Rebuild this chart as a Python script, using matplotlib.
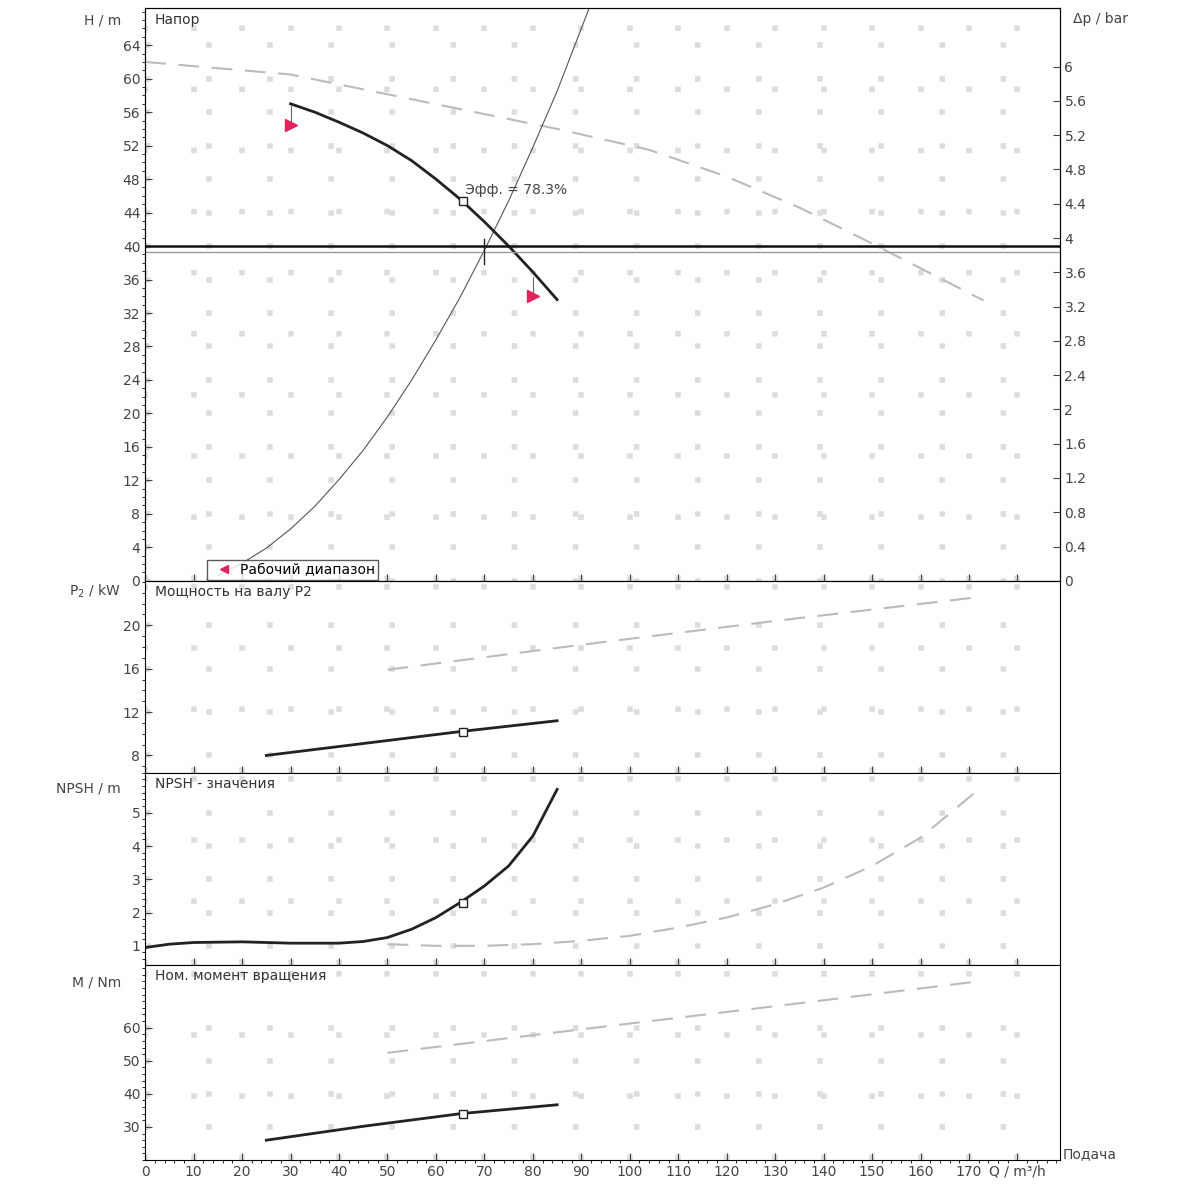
import matplotlib
matplotlib.use("Agg")
import matplotlib.pyplot as plt

# ---- data ----
pump_q = [30, 35, 40, 45, 50, 55, 60, 65, 70, 75, 80, 85]
pump_h = [57.0, 56.0, 54.8, 53.5, 52.0, 50.2, 48.0, 45.6, 42.9, 40.0, 36.9, 33.6]
sys_q = [15, 20, 25, 30, 35, 40, 45, 50, 55, 60, 65, 70, 75, 80, 85, 92]
sys_h = [0.6, 2.1, 3.9, 6.2, 8.9, 12.1, 15.6, 19.6, 24.0, 28.8, 33.9, 39.5,
         45.4, 51.8, 58.5, 69.0]
max_q = [0, 30, 63, 85, 104, 120, 135, 150, 173]
max_h = [62.0, 60.5, 56.6, 54.0, 51.5, 48.3, 44.6, 40.3, 33.5]
duty_q = 70
duty_h = 39.3
req_h = 40
eff_q, eff_h = 65.5, 45.4
range_q = [30, 80]
range_h = [54.5, 34.0]

p2_q = [25, 45, 65, 85]
p2_v = [8.0, 9.1, 10.2, 11.2]
p2_max_q = [50, 90, 130, 172]
p2_max_v = [15.9, 18.2, 20.4, 22.6]

npsh_q = [0, 5, 10, 20, 30, 40, 45, 50, 55, 60, 65, 70, 75, 80, 85]
npsh_v = [0.95, 1.05, 1.1, 1.12, 1.08, 1.08, 1.13, 1.25, 1.5, 1.85, 2.3, 2.8,
          3.4, 4.3, 5.7]
npsh_max_q = [50, 60, 70, 80, 90, 100, 110, 120, 130, 140, 150, 160, 172]
npsh_max_v = [1.05, 1.0, 1.0, 1.05, 1.15, 1.3, 1.55, 1.85, 2.25, 2.75, 3.4, 4.25, 5.7]

m_q = [25, 45, 65, 85]
m_v = [26.0, 30.2, 34.0, 36.7]
m_max_q = [50, 90, 130, 172]
m_max_v = [52.4, 59.5, 66.5, 74.0]

x_ticks = list(range(0, 190, 10))
x_labels = [str(v) for v in x_ticks[:-1]] + ["Q / m³/h"]

fig = plt.figure(figsize=(12, 12), dpi=100)
left, width = 0.121, 0.762
bounds = [(0.516, 0.477), (0.356, 0.160), (0.196, 0.160), (0.0333, 0.1627)]
axes = [fig.add_axes([left, b, width, h]) for b, h in bounds]
grey = "#bbbbbb"
dash = (0, (10, 6))
txt = "#444444"

for ax in axes:
    ax.set_xlim(0, 188.7)
    ax.grid(True, color="#dddddd", linestyle=(0, (1, 10)), linewidth=4)
    ax.tick_params(labelsize=10, colors=txt, direction="in", length=5)
    ax.set_xticks(x_ticks)
    ax.minorticks_on()
for ax in axes[:-1]:
    ax.tick_params(labelbottom=False)

# ---- head ----
ax = axes[0]
ax.set_ylim(0, 68.4)
ax.set_yticks(range(0, 65, 4))
ax.plot(max_q, max_h, color=grey, linestyle=dash, lw=1.5)
ax.plot(sys_q, sys_h, color="#555555", lw=0.8)
ax.plot(pump_q, pump_h, color="#222222", lw=2)
ax.plot([eff_q], [eff_h], marker="s", mfc="white", mec="#222222", ms=6)
ax.axhline(req_h, color="#111111", lw=1.8)
ax.axhline(duty_h, color="#999999", lw=1)
ax.plot([duty_q, duty_q], [duty_h - 1.5, duty_h + 1.5], color="#222222", lw=1)
ax.text(eff_q + 0.5, eff_h + 0.8, "Эфф. = 78.3%", fontsize=10, color=txt)
for q, h in zip(range_q, range_h):
    ax.plot([q, q], [h, h + 2.3], color="#666666", lw=0.8)
ax.plot(range_q, range_h, linestyle="none", marker=">", color="#e0245e", ms=8)
ax.text(2, 66.5, "Напор", fontsize=10, color="#333333")
ax.text(-5, 66.5, "H / m", fontsize=10, color=txt, ha="right")
ax.legend(handles=[plt.Line2D([], [], marker="<", color="#e0245e", linestyle="none")],
          labels=["Рабочий диапазон"], loc="lower left", bbox_to_anchor=(0.06, -0.01),
          fontsize=10, frameon=True, fancybox=False, edgecolor="#333333",
          handletextpad=0.2, borderpad=0.2)
ax2 = ax.twinx()
ax2.set_ylim(0, 68.4 / 10.24)
bar_ticks = [0, 0.4, 0.8, 1.2, 1.6, 2, 2.4, 2.8, 3.2, 3.6, 4, 4.4, 4.8, 5.2, 5.6, 6]
ax2.set_yticks(bar_ticks)
ax2.set_yticklabels([f"{v:g}" for v in bar_ticks])
ax2.tick_params(labelsize=10, colors=txt, direction="in", length=5)
ax2.text(1.015, 0.975, "Δp / bar", transform=ax2.transAxes, fontsize=10, color=txt)

# ---- power ----
ax = axes[1]
ax.set_ylim(6.4, 24.1)
ax.set_yticks([8, 12, 16, 20])
ax.plot(p2_max_q, p2_max_v, color=grey, linestyle=dash, lw=1.5)
ax.plot(p2_q, p2_v, color="#222222", lw=2)
ax.plot([eff_q], [10.2], marker="s", mfc="white", mec="#222222", ms=6)
ax.text(2, 22.7, "Мощность на валу P2", fontsize=10, color="#333333")
ax.text(-5, 22.7, "P$_2$ / kW", fontsize=10, color=txt, ha="right")

# ---- NPSH ----
ax = axes[2]
ax.set_ylim(0.43, 6.2)
ax.set_yticks([1, 2, 3, 4, 5])
ax.plot(npsh_max_q, npsh_max_v, color=grey, linestyle=dash, lw=1.5)
ax.plot(npsh_q, npsh_v, color="#222222", lw=2)
ax.plot([eff_q], [2.3], marker="s", mfc="white", mec="#222222", ms=6)
ax.text(2, 5.75, "NPSH - значения", fontsize=10, color="#333333")
ax.text(-5, 5.6, "NPSH / m", fontsize=10, color=txt, ha="right")

# ---- torque ----
ax = axes[3]
ax.set_ylim(20, 79)
ax.set_yticks([30, 40, 50, 60])
ax.plot(m_max_q, m_max_v, color=grey, linestyle=dash, lw=1.5)
ax.plot(m_q, m_v, color="#222222", lw=2)
ax.plot([eff_q], [34.0], marker="s", mfc="white", mec="#222222", ms=6)
ax.text(2, 74.5, "Ном. момент вращения", fontsize=10, color="#333333")
ax.text(-5, 72.5, "M / Nm", fontsize=10, color=txt, ha="right")
ax.set_xticks(x_ticks)
ax.set_xticklabels(x_labels)
ax.text(1.003, 0.01, "Подача", transform=ax.transAxes, fontsize=10, color=txt)

fig.savefig("out.png", dpi=100)
